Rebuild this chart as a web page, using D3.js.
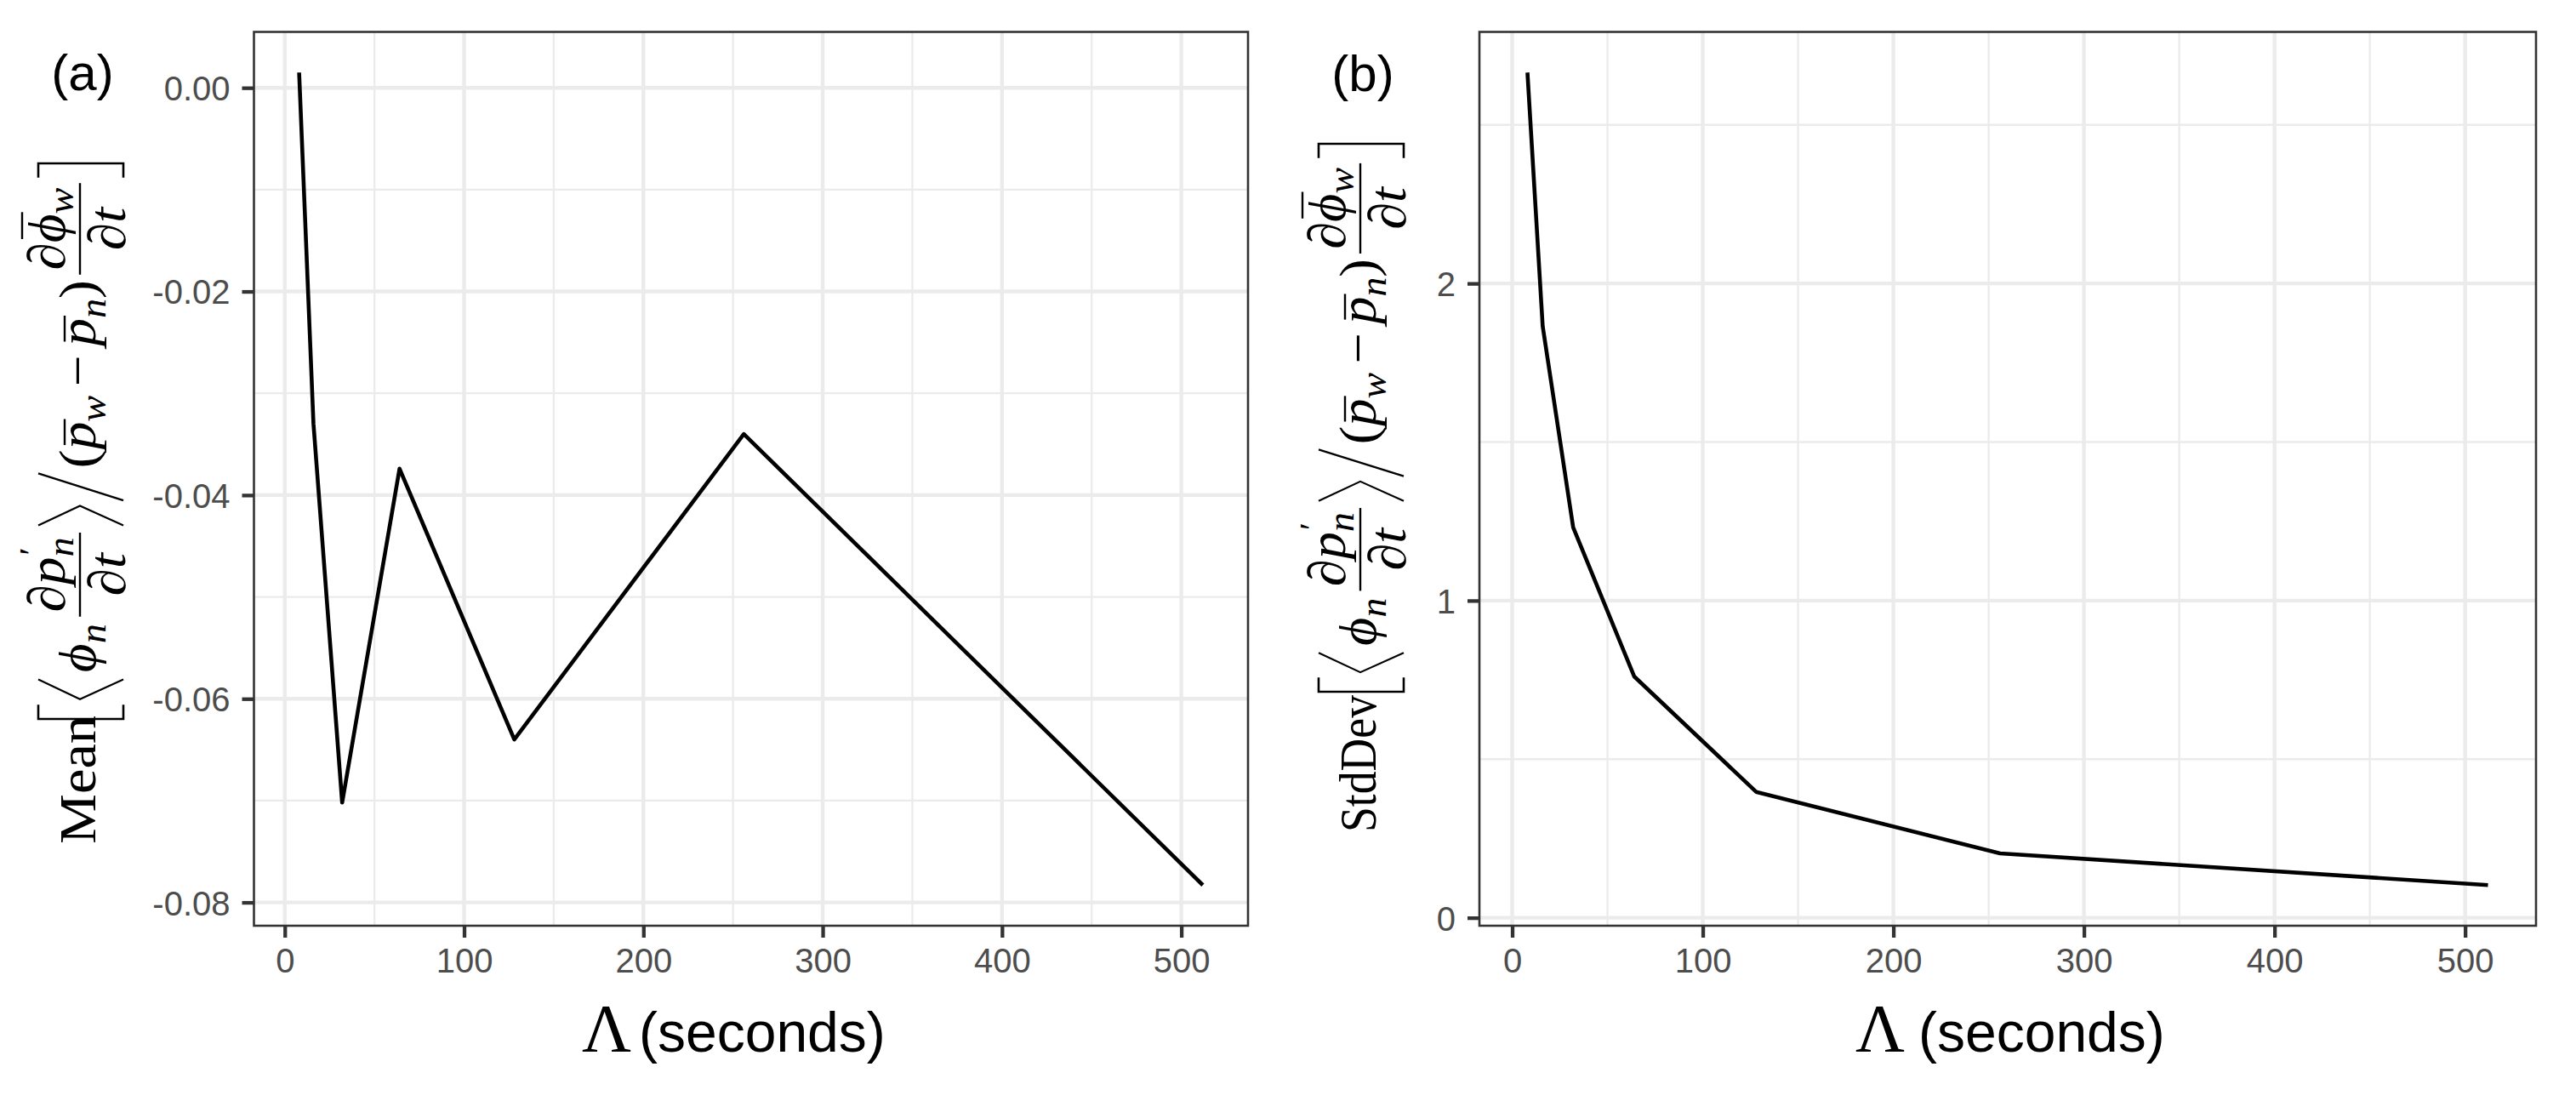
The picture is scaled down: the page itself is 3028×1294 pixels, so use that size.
<!DOCTYPE html>
<html>
<head>
<meta charset="utf-8">
<script src="https://cdn.jsdelivr.net/npm/d3@7"></script>
<style>
  body { margin: 0; background: #fff; }
</style>
</head>
<body>
<svg id="fig"></svg>
<script>
// data
var lambda = [8, 16, 32, 64, 128, 256, 512];
var meanValues = [0.0015, -0.0330, -0.0702, -0.0374, -0.0640, -0.0340, -0.0783];
var sdValues = [2.665, 1.865, 1.231, 0.761, 0.397, 0.203, 0.103];

var xTicks = [0, 100, 200, 300, 400, 500];
var xMinor = [50, 150, 250, 350, 450];
var meanTicks = [0, -0.02, -0.04, -0.06, -0.08];
var meanMinor = [-0.01, -0.03, -0.05, -0.07];
var sdTicks = [0, 1, 2];
var sdMinor = [0.5, 1.5, 2.5];

var panelTags = ["(a)", "(b)"];
var statNames = ["Mean", "StdDev"];

var W = 3028, H = 1294;
var serif = "'Liberation Serif','DejaVu Serif',serif";
var sans = "'Liberation Sans',Arial,sans-serif";

var svg = d3.select("#fig").attr("width", W).attr("height", H);
svg.append("rect").attr("width", W).attr("height", H).attr("fill", "#fff");

// ggplot style 5% expansion
function padded(ext) {
    var p = (ext[1] - ext[0]) * 0.05;
    return [ext[0] - p, ext[1] + p];
}

function drawPanel(box, vals, yTicks, yMinor, fmt) {
    var x = d3.scaleLinear().domain(padded(d3.extent(lambda))).range([box.left, box.right]);
    var y = d3.scaleLinear().domain(padded(d3.extent(vals))).range([box.bottom, box.top]);
    var g = svg.append("g");

    g.selectAll(".vmin").data(xMinor).enter().append("line")
        .attr("x1", x).attr("x2", x).attr("y1", box.top).attr("y2", box.bottom)
        .attr("stroke", "#ebebeb").attr("stroke-width", 2.3);
    g.selectAll(".hmin").data(yMinor).enter().append("line")
        .attr("y1", y).attr("y2", y).attr("x1", box.left).attr("x2", box.right)
        .attr("stroke", "#ebebeb").attr("stroke-width", 2.3);
    g.selectAll(".vmaj").data(xTicks).enter().append("line")
        .attr("x1", x).attr("x2", x).attr("y1", box.top).attr("y2", box.bottom)
        .attr("stroke", "#ebebeb").attr("stroke-width", 4.4);
    g.selectAll(".hmaj").data(yTicks).enter().append("line")
        .attr("y1", y).attr("y2", y).attr("x1", box.left).attr("x2", box.right)
        .attr("stroke", "#ebebeb").attr("stroke-width", 4.4);

    var line = d3.line()
        .x(function(d) { return x(d); })
        .y(function(d, i) { return y(vals[i]); });
    g.append("path").datum(lambda)
        .attr("d", line)
        .attr("fill", "none").attr("stroke", "#000").attr("stroke-width", 4.6)
        .attr("stroke-linejoin", "round");

    g.append("rect")
        .attr("x", box.left).attr("y", box.top)
        .attr("width", box.right - box.left).attr("height", box.bottom - box.top)
        .attr("fill", "none").attr("stroke", "#333").attr("stroke-width", 2.6);

    var ax = svg.append("g")
        .attr("transform", "translate(0," + box.bottom + ")")
        .call(d3.axisBottom(x).tickValues(xTicks).tickSize(14).tickPadding(13).tickFormat(d3.format("d")));
    var ay = svg.append("g")
        .attr("transform", "translate(" + box.left + ",0)")
        .call(d3.axisLeft(y).tickValues(yTicks).tickSize(14).tickPadding(14).tickFormat(fmt));
    [ax, ay].forEach(function(a) {
        a.select(".domain").remove();
        a.attr("font-family", sans).attr("font-size", 40);
        a.selectAll(".tick line").attr("stroke", "#333").attr("stroke-width", 4.3);
        a.selectAll(".tick text").attr("fill", "#4d4d4d");
    });
    ay.selectAll(".tick text").attr("dy", "0.36em");
}

// y-axis title built as rotated math: Name[ <phi_n dp'_n/dt> / (pbar_w - pbar_n) dphibar_w/dt ]
function drawYTitle(name, ox, oy, nameLen, spanStart, spanEnd) {
    var g = svg.append("g")
        .attr("transform", "translate(" + ox + "," + oy + ") rotate(-90)")
        .attr("font-family", serif).attr("fill", "#000");
    g.append("text").attr("x", 0).attr("y", 0)
        .attr("font-size", 62)
        .attr("textLength", nameLen).attr("lengthAdjust", "spacingAndGlyphs")
        .text(name);

    var f = g.append("g");
    var cur = 0;
    var axisY = -18;

    function put(parent, x, y, str, size, italic) {
        var t = parent.append("text").attr("x", x).attr("y", y)
            .attr("font-size", size).attr("font-style", italic ? "italic" : "normal")
            .text(str);
        return t.node().getComputedTextLength();
    }
    function stroke(parent, d, w) {
        parent.append("path").attr("d", d).attr("fill", "none")
            .attr("stroke", "#000").attr("stroke-width", w)
            .attr("vector-effect", "non-scaling-stroke");
    }
    function barOver(parent, x1, x2, yy) {
        stroke(parent, "M" + x1 + "," + yy + "H" + x2, 2.4);
    }
    // pbar with subscript
    function pbar(parent, x, y, sub) {
        var w = put(parent, x, y, "p", 62, true);
        barOver(parent, x + 5, x + w + 3, y - 36);
        var ws = put(parent, x + w, y + 12, sub, 44, true);
        return w + ws;
    }
    function frac(numFn) {
        var x0 = cur;
        var ng = f.append("g");
        var nw = numFn(ng);
        var dg = f.append("g");
        var dw = put(dg, 0, 35, "\u2202t", 62, true);
        var w = Math.max(nw, dw) + 10;
        ng.attr("transform", "translate(" + (x0 + (w - nw) / 2) + ",0)");
        dg.attr("transform", "translate(" + (x0 + (w - dw) / 2) + ",0)");
        stroke(f, "M" + x0 + "," + axisY + "H" + (x0 + w), 2.4);
        cur = x0 + w;
    }

    // [
    stroke(f, "M" + (cur + 16) + ",-67H" + cur + "V33H" + (cur + 16), 2.6);
    cur += 22;
    // <
    stroke(f, "M" + (cur + 22) + ",-67L" + cur + "," + axisY + "L" + (cur + 22) + ",33", 2.2);
    cur += 30;
    cur += put(f, cur, 0, "\u03d5", 62, true);
    cur += put(f, cur, 12, "n", 44, true);
    cur += 8;
    frac(function(p) {
        var w = put(p, 0, -36, "\u2202", 62, true);
        w += put(p, w, -36, "p", 62, true);
        put(p, w + 2, -62, "\u2032", 40, false);
        w += put(p, w, -26, "n", 44, true);
        return w;
    });
    cur += 8;
    // >
    stroke(f, "M" + cur + ",-67L" + (cur + 22) + "," + axisY + "L" + cur + ",33", 2.2);
    cur += 28;
    // big slash
    stroke(f, "M" + cur + ",33L" + (cur + 30) + ",-67", 2.4);
    cur += 36;
    cur += put(f, cur, 0, "(", 62, false);
    cur += pbar(f, cur, 0, "w");
    cur += 10;
    cur += put(f, cur, 0, "\u2212", 62, false);
    cur += 10;
    cur += pbar(f, cur, 0, "n");
    cur += put(f, cur, 0, ")", 62, false);
    cur += 6;
    frac(function(p) {
        var w = put(p, 0, -36, "\u2202", 62, true);
        var wp = put(p, w, -36, "\u03d5", 62, true);
        barOver(p, w + 4, w + wp + 2, -86);
        w += wp;
        w += put(p, w, -26, "w", 44, true);
        return w;
    });
    cur += 6;
    // ]
    stroke(f, "M" + cur + ",-67H" + (cur + 16) + "V33H" + cur, 2.6);

    var bb = f.node().getBBox();
    var k = (spanEnd - spanStart) / bb.width;
    f.attr("transform", "translate(" + (spanStart - bb.x * k) + ",0) scale(" + k + ",1)");
}

function drawXTitle(lx, sx) {
    svg.append("text").attr("x", lx).attr("y", 1236)
        .attr("font-family", serif).attr("font-size", 80).text("\u039b");
    svg.append("text").attr("x", sx).attr("y", 1236)
        .attr("font-family", sans).attr("font-size", 66).text("(seconds)");
}

var hyphen = function(d) { return d3.format(".2f")(d).replace("\u2212", "-"); };

drawPanel({left: 298.5, right: 1467, top: 37.5, bottom: 1088}, meanValues, meanTicks, meanMinor, hyphen);
drawPanel({left: 1739, right: 2981, top: 37.5, bottom: 1088}, sdValues, sdTicks, sdMinor, d3.format("d"));

drawYTitle(statNames[0], 112, 992, 151, 147, 800);
drawYTitle(statNames[1], 1617, 978, 161, 165, 809);

drawXTitle(684, 751);
drawXTitle(2181, 2255);

svg.append("text").attr("x", 97).attr("y", 106).attr("text-anchor", "middle")
    .attr("font-family", sans).attr("font-size", 60).text(panelTags[0]);
svg.append("text").attr("x", 1602).attr("y", 107).attr("text-anchor", "middle")
    .attr("font-family", sans).attr("font-size", 60).text(panelTags[1]);
</script>
</body>
</html>
